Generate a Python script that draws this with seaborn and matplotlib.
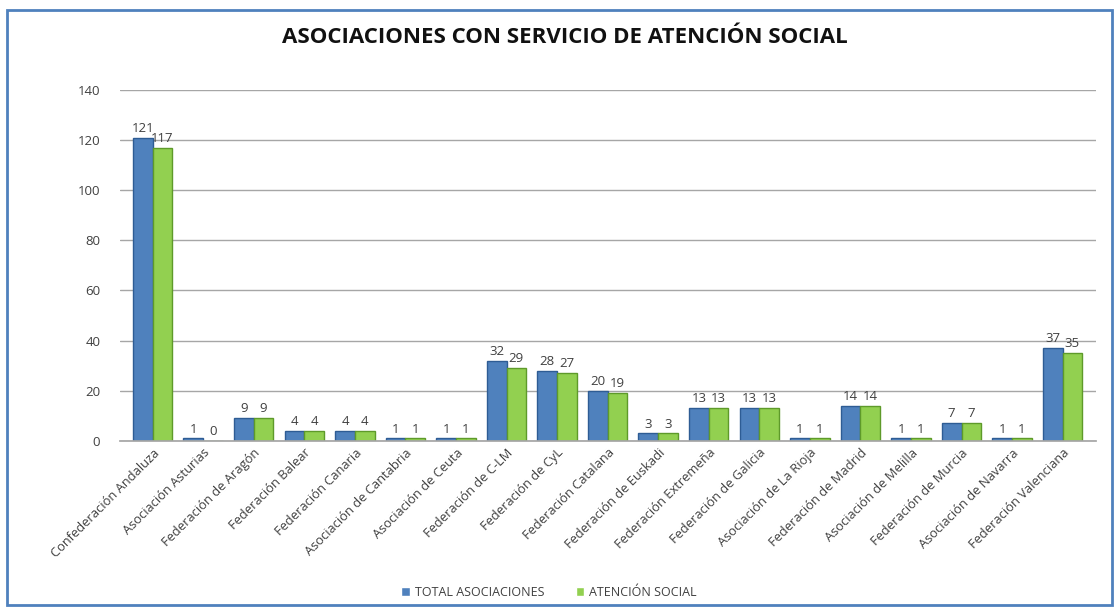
import matplotlib
matplotlib.use("Agg")
import matplotlib.pyplot as plt
import matplotlib.patches as mpatches
import seaborn as sns
import pandas as pd

categories = [
    "Confederación Andaluza", "Asociación Asturias", "Federación de Aragón",
    "Federación Balear", "Federación Canaria", "Asociación de Cantabria",
    "Asociación de Ceuta", "Federación de C-LM", "Federación de CyL",
    "Federación Catalana", "Federación de Euskadi", "Federación Extremeña",
    "Federación de Galicia", "Asociación de La Rioja", "Federación de Madrid",
    "Asociación de Melilla", "Federación de Murcia", "Asociación de Navarra",
    "Federación Valenciana",
]
total_asociaciones = [121, 1, 9, 4, 4, 1, 1, 32, 28, 20, 3, 13, 13, 1, 14, 1, 7, 1, 37]
atencion_social = [117, 0, 9, 4, 4, 1, 1, 29, 27, 19, 3, 13, 13, 1, 14, 1, 7, 1, 35]
series_names = ["TOTAL ASOCIACIONES", "ATENCIÓN SOCIAL"]
y_ticks = [0, 20, 40, 60, 80, 100, 120, 140]

df = pd.DataFrame({
    "cat": categories * 2,
    "serie": [series_names[0]] * len(categories) + [series_names[1]] * len(categories),
    "val": total_asociaciones + atencion_social,
})

sns.set_theme(style="white")
plt.rcParams["font.family"] = ["Open Sans", "DejaVu Sans"]

fig = plt.figure(figsize=(11.19, 6.08), dpi=100)
ax = fig.add_axes([0.107, 0.275, 0.872, 0.577])

palette = {series_names[0]: "#4F81BD", series_names[1]: "#92D050"}
edges = {series_names[0]: "#2E5C94", series_names[1]: "#5E9A2A"}
sns.barplot(data=df, x="cat", y="val", hue="serie", palette=palette,
            width=0.78, ax=ax, legend=True, saturation=1)

for cont, name in zip(ax.containers, series_names):
    for p in cont:
        p.set_edgecolor(edges[name])
        p.set_linewidth(1.0)
    ax.bar_label(cont, fontsize=9.5, color="#404040", padding=2)

ax.set_ylim(0, 140)
ax.set_xlim(-0.65, len(categories) - 0.35)
ax.set_yticks(y_ticks)
ax.set_yticklabels([str(v) for v in y_ticks], fontsize=9.5, color="#404040")
ax.yaxis.grid(True, color="#A6A6A6", linewidth=1)
ax.set_axisbelow(True)
ax.set_xlabel("")
ax.set_ylabel("")
for s in ["top", "right", "left"]:
    ax.spines[s].set_visible(False)
ax.spines["bottom"].set_color("#A6A6A6")
ax.tick_params(axis="y", length=0, pad=14)
ax.tick_params(axis="x", length=0, pad=4)
ax.set_xticks(range(len(categories)))
ax.set_xticklabels(categories, rotation=45, ha="right", rotation_mode="anchor",
                   fontsize=9.3, color="#404040")

leg = ax.legend(loc="center", bbox_to_anchor=(0.44, -0.433), ncol=2,
                frameon=False, fontsize=9, handlelength=0.7, handleheight=0.7,
                columnspacing=2.5, handletextpad=0.4)
for t in leg.get_texts():
    t.set_color("#404040")

fig.suptitle("ASOCIACIONES CON SERVICIO DE ATENCIÓN SOCIAL", x=0.505, y=0.955,
             fontsize=16, fontweight="bold", color="#111111")

fig.patches.append(mpatches.Rectangle((0.006, 0.005), 0.988, 0.978,
                                      transform=fig.transFigure, fill=False,
                                      edgecolor="#4F81BD", linewidth=2))

fig.savefig("out.png", dpi=100)
